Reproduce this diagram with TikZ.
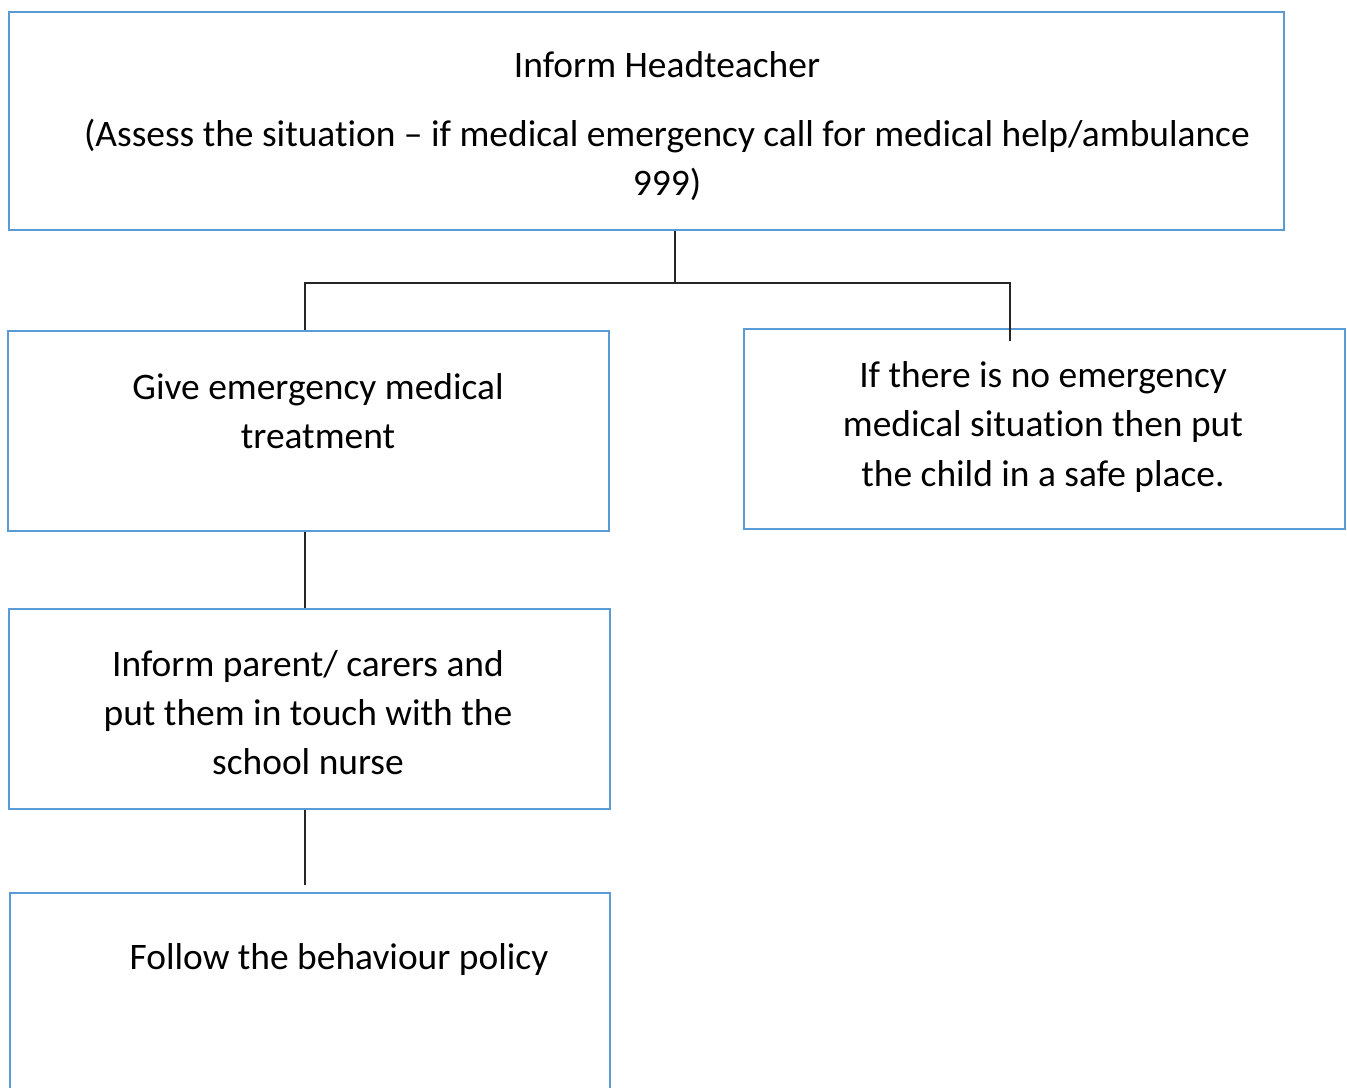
\documentclass[tikz,border=0pt]{standalone}
\usepackage{fontspec}
\setmainfont{Carlito}[Ligatures=CommonOff]
\usepackage{tikz}
\usetikzlibrary{calc}
\definecolor{boxblue}{RGB}{91,155,213}
\tikzset{
    box/.style={draw=boxblue, line width=0.8pt, minimum width=#1, minimum height=2cm, inner sep=0pt},
    txt/.style={align=center, inner sep=0pt, font=\fontsize{10.65pt}{13.95pt}\selectfont},
    link/.style={line width=0.45pt, black!85}
}

\begin{document}
\begin{tikzpicture}
    \useasboundingbox (0,0) rectangle (13.47,-10.88);

    \node[box=12.75cm, minimum height=2.18cm] (head) at (6.465,-1.21) {};
    \node[box=6.01cm] (treat) at (3.085,-4.31) {};
    \node[box=6.01cm] (safe) at (10.445,-4.29) {};
    \node[box=6.01cm] (parent) at (3.095,-7.09) {};
    \node[box=6.00cm] (policy) at (3.10,-9.93) {};

    \node[txt] (head1) at (6.67,-0.65) {Inform Headteacher};
    \node[txt] (head2) at (6.67,-1.60) {(Assess the situation -- if medical emergency call for medical help/ambulance\\999)};
    \node[txt] (treat1) at (3.18,-4.11) {Give emergency medical\\treatment};
    \node[txt] (safe1) at (10.43,-4.27) {If there is no emergency\\medical situation then put\\the child in a safe place.};
    \node[txt] (parent1) at (3.08,-7.125) {Inform parent/ carers and\\put them in touch with the\\school nurse};
    \node[txt] (policy1) at (3.39,-9.60) {Follow the behaviour policy};

    \coordinate (split) at (6.75,-2.83);
    \coordinate (lft) at (3.05,-2.83);
    \coordinate (rgt) at (10.10,-2.83);
    \coordinate (rgtend) at (10.10,-3.41);
    \coordinate (gap) at (3.05,-8.85);

    \draw[link] (head.south -| split) -- (split);
    \draw[link] (treat.north -| lft) -- (lft) -- (rgt) -- (rgtend);
    \draw[link] (treat.south -| lft) -- (parent.north -| lft);
    \draw[link] (parent.south -| lft) -- (gap);
\end{tikzpicture}
\end{document}
